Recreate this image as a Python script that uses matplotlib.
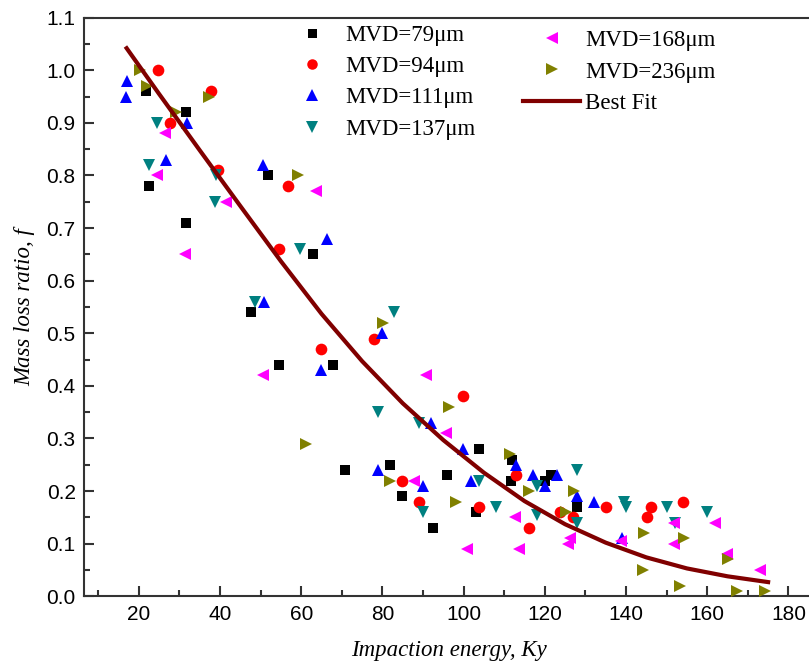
import matplotlib
matplotlib.use('Agg')
import matplotlib.pyplot as plt
from matplotlib.ticker import MultipleLocator, FormatStrFormatter

# Werte (Impaction energy Ky, Mass loss ratio f)
mvd79_x = [21.7, 22.6, 31.7, 31.7, 47.7, 51.8, 54.6, 62.8, 67.9, 70.8, 81.9, 84.9,
           92.4, 95.9, 103.1, 103.9, 111.9, 111.6, 120.0, 121.5, 128.0]
mvd79_y = [0.96, 0.78, 0.92, 0.71, 0.54, 0.80, 0.44, 0.65, 0.44, 0.24, 0.25, 0.19,
           0.13, 0.23, 0.16, 0.28, 0.26, 0.22, 0.22, 0.23, 0.17]

mvd94_x = [24.7, 27.7, 37.7, 39.6, 54.6, 56.8, 64.8, 78.0, 84.9, 88.9, 99.8, 103.9,
           113.0, 116.0, 123.8, 127.0, 135.1, 145.1, 146.1, 154.1]
mvd94_y = [1.00, 0.90, 0.96, 0.81, 0.66, 0.78, 0.47, 0.49, 0.22, 0.18, 0.38, 0.17,
           0.23, 0.13, 0.16, 0.15, 0.17, 0.15, 0.17, 0.18]

mvd111_x = [16.9, 17.0, 26.6, 31.8, 50.7, 50.9, 64.8, 66.3, 78.9, 79.8, 90.1, 91.9,
            99.8, 101.8, 112.9, 117.0, 120.1, 123.0, 128.0, 132.0, 139.0]
mvd111_y = [0.95, 0.98, 0.83, 0.90, 0.82, 0.56, 0.43, 0.68, 0.24, 0.50, 0.21, 0.33,
            0.28, 0.22, 0.25, 0.23, 0.21, 0.23, 0.19, 0.18, 0.11]

mvd137_x = [22.6, 24.6, 38.8, 39.0, 48.6, 59.7, 78.8, 82.9, 89.1, 89.9, 103.8, 108.0,
            118.0, 118.0, 128.0, 128.0, 139.5, 140.0, 150.0, 152.1, 160.0]
mvd137_y = [0.82, 0.90, 0.75, 0.80, 0.56, 0.66, 0.35, 0.54, 0.33, 0.16, 0.22, 0.17,
            0.21, 0.155, 0.24, 0.14, 0.18, 0.17, 0.17, 0.14, 0.16]

mvd168_x = [24.4, 26.5, 31.4, 41.5, 50.5, 63.6, 87.9, 90.7, 95.6, 100.8, 112.7, 113.7,
            125.8, 126.2, 138.7, 151.7, 151.8, 161.9, 164.8, 172.9]
mvd168_y = [0.80, 0.88, 0.65, 0.75, 0.42, 0.77, 0.22, 0.42, 0.31, 0.09, 0.15, 0.09,
            0.10, 0.11, 0.105, 0.10, 0.14, 0.14, 0.08, 0.05]

mvd236_x = [20.3, 22.0, 29.1, 37.4, 59.3, 61.2, 80.2, 81.9, 96.3, 98.2, 111.5, 116.2,
            125.2, 127.2, 144.3, 144.4, 153.3, 154.3, 165.2, 167.3, 174.3]
mvd236_y = [1.00, 0.97, 0.92, 0.95, 0.80, 0.29, 0.52, 0.22, 0.36, 0.18, 0.27, 0.20,
            0.16, 0.20, 0.05, 0.12, 0.02, 0.11, 0.07, 0.01, 0.01]

# Best-Fit-Kurve, Punkte
fit_x = [17, 25, 35, 45, 55, 65, 75, 85, 95, 105, 115, 125, 135, 145, 155, 165, 175]
fit_y = [1.042, 0.955, 0.848, 0.742, 0.637, 0.537, 0.447, 0.367, 0.297, 0.235,
         0.181, 0.137, 0.102, 0.074, 0.053, 0.038, 0.027]

series = [
    ('MVD=79\u03bcm', mvd79_x, mvd79_y, 's', 'black', 7.2),
    ('MVD=94\u03bcm', mvd94_x, mvd94_y, 'o', '#ff0000', 8.4),
    ('MVD=111\u03bcm', mvd111_x, mvd111_y, '^', '#0000ff', 9.0),
    ('MVD=137\u03bcm', mvd137_x, mvd137_y, 'v', '#008080', 9.0),
    ('MVD=168\u03bcm', mvd168_x, mvd168_y, '<', '#ff00ff', 9.0),
    ('MVD=236\u03bcm', mvd236_x, mvd236_y, '>', '#808000', 9.0),
]

SANS = ['Liberation Sans', 'DejaVu Sans']
SERIF = ['Liberation Serif', 'DejaVu Serif']

fig = plt.figure(figsize=(8.09, 6.62), dpi=100)
ax = fig.add_axes([84 / 809, 1 - 596.3 / 662, 730.8 / 809, 578.6 / 662])

handles = []
for label, xs, ys, marker, color, ms in series:
    h, = ax.plot(xs, ys, linestyle='none', marker=marker, color=color,
                 markersize=ms, markeredgewidth=0, label=label, zorder=3)
    handles.append(h)

fit_line, = ax.plot(fit_x, fit_y, color='#800000', linewidth=3, label='Best Fit', zorder=4)

ax.set_xlim(6.5, 186.5)
ax.set_ylim(0, 1.1)
ax.xaxis.set_major_locator(MultipleLocator(20))
ax.xaxis.set_minor_locator(MultipleLocator(10))
ax.yaxis.set_major_locator(MultipleLocator(0.1))
ax.yaxis.set_minor_locator(MultipleLocator(0.05))
ax.yaxis.set_major_formatter(FormatStrFormatter('%.1f'))

ax.tick_params(which='both', direction='in', top=False, right=False, width=1.5, color='#333333')
ax.tick_params(which='major', length=7.5)
ax.tick_params(which='minor', length=4)
ax.tick_params(axis='x', pad=6)
ax.tick_params(axis='y', pad=6)
for lab in ax.get_xticklabels() + ax.get_yticklabels():
    lab.set_family(SANS)
    lab.set_fontsize(15)

for sp in ax.spines.values():
    sp.set_linewidth(1.5)
    sp.set_color('#333333')

ax.set_xlabel('Impaction energy, Ky', fontsize=16.5, style='italic', family=SERIF, labelpad=12)
ax.set_ylabel('Mass loss ratio, f', fontsize=16.5, style='italic', family=SERIF, labelpad=8)

leg_font = {'family': SERIF, 'size': 16.5}
leg1 = ax.legend(handles[:4], [h.get_label() for h in handles[:4]],
                 loc='upper left', bbox_to_anchor=(283 / 809, 0.963), bbox_transform=fig.transFigure,
                 frameon=False, prop=leg_font, handlelength=2.5, handletextpad=0.2,
                 labelspacing=0.45, borderpad=0, borderaxespad=0, numpoints=1, markerscale=0.9)
ax.add_artist(leg1)
leg2 = ax.legend(handles[4:] + [fit_line], [h.get_label() for h in handles[4:]] + ['Best Fit'],
                 loc='upper left', bbox_to_anchor=(523 / 809, 0.9545), bbox_transform=fig.transFigure,
                 frameon=False, prop=leg_font, handlelength=2.5, handletextpad=0.2,
                 labelspacing=0.45, borderpad=0, borderaxespad=0, numpoints=1, markerscale=0.9)

plt.savefig('out.png', dpi=100)
plt.close(fig)
